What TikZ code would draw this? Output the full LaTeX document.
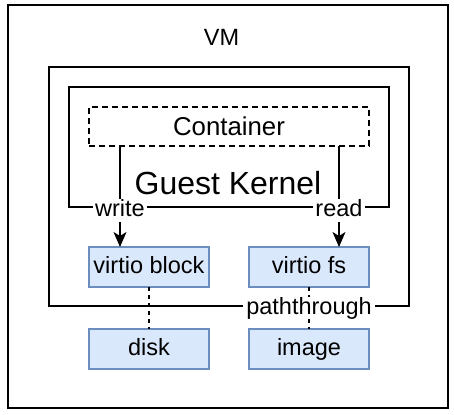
\documentclass[tikz,border=0pt]{standalone}
\usepackage{fontspec}
\setmainfont{Liberation Sans}
\usetikzlibrary{arrows.meta, positioning}
\definecolor{devfill}{HTML}{DAE8FC}
\definecolor{devdraw}{HTML}{6C8EBF}
\tikzstyle{frame} = [rectangle, draw=black, line width=2pt, inner sep=0pt, outer sep=0pt]
\tikzstyle{dev} = [rectangle, draw=devdraw, fill=devfill, line width=1.3pt, minimum width=120pt, minimum height=40pt, inner sep=0pt, outer sep=0pt, text height=17pt, text depth=4.4pt, text centered]
\tikzstyle{arrow} = [line width=1.2pt, -{Stealth[length=15pt, width=13pt, inset=4pt]}]
\tikzstyle{link} = [line width=1.8pt, dash pattern=on 4pt off 4pt]
\tikzstyle{lbl} = [fill=white, inner xsep=2pt, inner ysep=0.5pt, text height=17pt, text depth=4.4pt]

\begin{document}
\begin{tikzpicture}[x=1pt, y=-1pt, font=\fontsize{23.5}{28}\selectfont]
\useasboundingbox (0,0) rectangle (454,414);

% VM
\node (vm) [frame, line width=2.5pt, minimum width=440pt, minimum height=403pt] at (228,206.5) {};
\node (vmlbl) at (221.5,37) {VM};

% Host side frame and guest kernel
\node (host) [frame, minimum width=360pt, minimum height=239pt] at (229,186.5) {};
\node (kern) [frame, minimum width=320pt, minimum height=120pt] at (229,147) {};
\node (kernlbl) [font=\fontsize{32}{38}\selectfont] at (228,183) {Guest Kernel};

% Container
\node (cont) [frame, line width=1.7pt, dash pattern=on 6pt off 4pt, minimum width=280pt, minimum height=39pt, font=\fontsize{25.8}{30}\selectfont] at (229,126.5) {Container};

% Devices
\node (blk) [dev] at (149,267) {virtio block};
\node (fs) [dev, right=40pt of blk] {virtio fs};
\node (disk) [dev, below=42pt of blk] {disk};
\node (img) [dev, below=42pt of fs] {image};

% Arrows
\draw [arrow] (cont.south -| 120,0) -- node[lbl, pos=0.64] {write} (blk.north -| 120,0);
\draw [arrow] (cont.south -| 339,0) -- node[lbl, pos=0.64] {read} (fs.north -| 339,0);
\draw [link] (blk) -- (disk);
\draw [link] (fs) -- node[lbl, inner xsep=3.5pt] {paththrough} (img);

\end{tikzpicture}
\end{document}
